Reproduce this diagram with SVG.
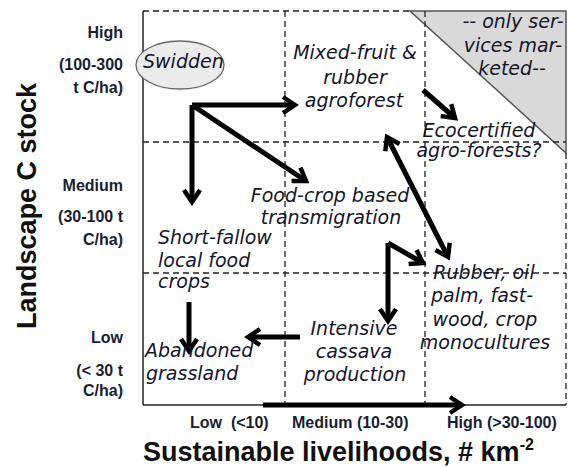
<svg xmlns="http://www.w3.org/2000/svg" width="574" height="467" viewBox="0 0 574 467">
<style>
.ax{font-family:"Liberation Sans",Arial,sans-serif;font-weight:bold;font-size:16px;fill:#1a1d33;text-anchor:end}
.xl{font-family:"Liberation Sans",Arial,sans-serif;font-weight:bold;font-size:16px;fill:#1a1d33;white-space:pre}
.ttl{font-family:"Liberation Sans",Arial,sans-serif;font-weight:bold;font-size:27px;fill:#111}
.lb{font-family:"DejaVu Sans",sans-serif;font-style:italic;font-size:19px;fill:#15152a}
.c{text-anchor:middle}
.dash{stroke:#222;stroke-width:1.3;stroke-dasharray:6 4;fill:none}
.solid{stroke:#222;stroke-width:1.5;fill:none}
.arr{stroke:#000;stroke-width:5;fill:none;marker-end:url(#head)}
</style>
<defs>
<marker id="head" viewBox="0 0 20 20" refX="16" refY="10" markerWidth="20" markerHeight="20" markerUnits="userSpaceOnUse" orient="auto-start-reverse">
<path d="M4,2 L16,10 L4,18" fill="none" stroke="#000" stroke-width="4.5"/>
</marker>
</defs>
<g id="frame">
<polygon points="410,11 566,11 566,153" fill="#d9d9d9" stroke="#555" stroke-width="1.5"/>
<line class="dash" x1="143" y1="11" x2="410" y2="11"/>
<line class="dash" x1="566" y1="153" x2="566" y2="405"/>
<line class="dash" x1="285" y1="11" x2="285" y2="405"/>
<line class="dash" x1="425" y1="11" x2="425" y2="405"/>
<line class="dash" x1="143" y1="142" x2="566" y2="142"/>
<line class="dash" x1="143" y1="273" x2="566" y2="273"/>
<line class="solid" x1="143" y1="11" x2="143" y2="405"/>
<line class="solid" x1="143" y1="405" x2="566" y2="405"/>
</g>
<g id="axis-labels">
<text class="ax" x="123" y="38">High</text>
<text class="ax" x="123" y="70">(100-300</text>
<text class="ax" x="123" y="93">t C/ha)</text>
<text class="ax" x="123" y="191">Medium</text>
<text class="ax" x="123" y="222">(30-100 t</text>
<text class="ax" x="123" y="245">C/ha)</text>
<text class="ax" x="123" y="343">Low</text>
<text class="ax" x="123" y="376">(&lt; 30 t</text>
<text class="ax" x="123" y="396">C/ha)</text>
<text class="xl" x="190" y="428">Low  (&lt;10)</text>
<text class="xl" x="292" y="428">Medium (10-30)</text>
<text class="xl" x="447" y="428">High (&gt;30-100)</text>
<text class="ttl" x="143" y="461" font-size="28">Sustainable livelihoods, # km<tspan font-size="16" dy="-11">-2</tspan></text>
<text class="ttl c" transform="translate(36,206) rotate(-90)">Landscape C stock</text>
</g>
<g id="connectors">
<polyline class="arr" points="192,105 295,105"/>
<polyline class="arr" points="192,105 192,202"/>
<polyline class="arr" points="192,105 306,181"/>
<polyline class="arr" points="423,90 455,118"/>
<line class="arr" x1="387" y1="137" x2="448" y2="257" style="marker-start:url(#head)"/>
<polyline class="arr" points="388,243 388,321"/>
<polyline class="arr" points="388,243 423,263"/>
<polyline class="arr" points="189,302 189,351"/>
<polyline class="arr" points="300,337 248,337"/>
<polyline class="arr" points="263,405 462,405"/>
</g>
<g id="swidden">
<ellipse cx="180" cy="65" rx="44" ry="24" fill="#ebebeb" stroke="#666" stroke-width="1.3"/>
<text class="lb" x="143" y="68">Swidden</text>
</g>
<g id="mixed-fruit">
<text class="lb c" x="355" y="59">Mixed-fruit &amp;</text>
<text class="lb c" x="355" y="84">rubber</text>
<text class="lb c" x="354" y="107">agroforest</text>
</g>
<g id="services">
<text class="lb c" x="513" y="28">-- only ser-</text>
<text class="lb c" x="513" y="52">vices mar-</text>
<text class="lb c" x="512" y="75">keted--</text>
</g>
<g id="ecocertified">
<text class="lb c" x="479" y="137">Ecocertified</text>
<text class="lb c" x="479" y="157">agro-forests?</text>
</g>
<g id="food-crop">
<text class="lb c" x="330" y="202">Food-crop based</text>
<text class="lb c" x="331" y="224">transmigration</text>
</g>
<g id="short-fallow">
<text class="lb" x="158" y="244">Short-fallow</text>
<text class="lb" x="158" y="267">local food</text>
<text class="lb" x="158" y="288">crops</text>
</g>
<g id="abandoned">
<text class="lb" x="145" y="357">Abandoned</text>
<text class="lb" x="146" y="380">grassland</text>
</g>
<g id="cassava">
<text class="lb c" x="354" y="335">Intensive</text>
<text class="lb c" x="354" y="358">cassava</text>
<text class="lb c" x="355" y="381">production</text>
</g>
<g id="rubber">
<text class="lb c" x="484" y="279">Rubber, oil</text>
<text class="lb c" x="482" y="302">palm, fast-</text>
<text class="lb c" x="485" y="326">wood, crop</text>
<text class="lb c" x="485" y="349">monocultures</text>
</g>
</svg>
